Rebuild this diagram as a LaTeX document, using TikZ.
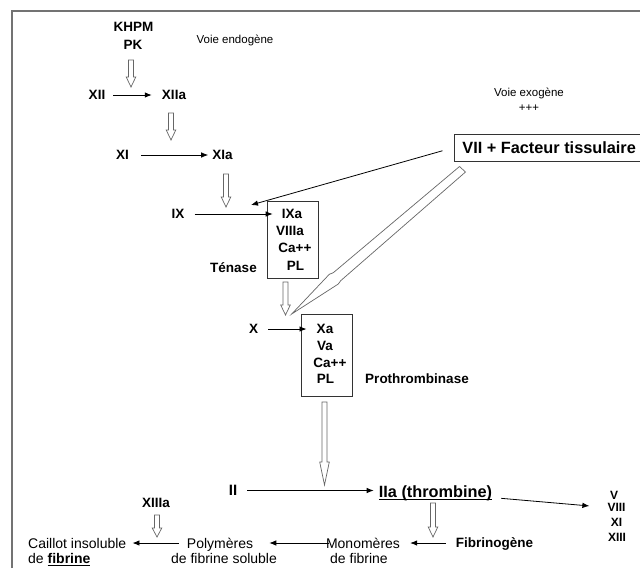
\documentclass[tikz,border=0pt]{standalone}
\usepackage{fontspec}
\setmainfont{Liberation Sans}
\usetikzlibrary{arrows.meta}

% hollow block arrow pointing down: x, top, tip, head length
\newcommand\hollowdown[4]{%
  \draw[hollow] (#1-2.5,#2) -- (#1+2.5,#2) -- (#1+2.5,#3-#4) -- (#1+4.8,#3-#4)
    -- (#1,#3) -- (#1-4.8,#3-#4) -- (#1-2.5,#3-#4) -- cycle;}
% thick underline
\newcommand\thickul[1]{\setbox0\hbox{#1}\rlap{\rule[-2.6pt]{\wd0}{1.1pt}}\box0}

\begin{document}
\begin{tikzpicture}[x=1pt,y=-1pt,
  bl/.style={font=\bfseries\fontsize{13.5}{16}\selectfont, text height=9.7pt, text depth=0pt, inner sep=0pt},
  bs/.style={font=\bfseries\fontsize{12}{14}\selectfont, text height=8.6pt, text depth=0pt, inner sep=0pt},
  rg/.style={font=\fontsize{14}{17}\selectfont, text height=10pt, text depth=0pt, inner sep=0pt},
  sm/.style={font=\fontsize{11.5}{14}\selectfont, text height=8.2pt, text depth=0pt, inner sep=0pt},
  arr/.style={line width=0.8pt, -{Latex[length=7pt,width=5.5pt]}},
  hollow/.style={draw=black!60, fill=white, line width=0.7pt, line join=miter},
  box/.style={draw=black!80, line width=0.8pt, inner sep=0pt},
]
\useasboundingbox (0,0) rectangle (640,568);

% page frame
\draw[black!55, line width=1.3pt] (12,568) -- (12,11) -- (640,11);

% intrinsic pathway
\node[bl] (khpm) at (133.5,27) {KHPM};
\node[bl] (pk) at (133,45) {PK};
\node[sm] (endo) at (235,39) {Voie endogène};
\node[bl] (xii) at (97,95) {XII};
\node[bl] (xiia) at (174,95) {XIIa};
\node[bl] (xi) at (122.5,155) {XI};
\node[bl] (xia) at (222.5,155) {XIa};
\draw[arr, shorten <=8pt, shorten >=10pt] (xii) -- (xiia);
\draw[arr, shorten <=12pt, shorten >=4pt] (xi) -- (xia);
\hollowdown{131}{60}{87}{10}
\hollowdown{171}{113}{140}{10}
\hollowdown{226}{174}{207}{10}

% extrinsic pathway
\node[sm] (exo) at (529,92) {Voie exogène};
\node[sm] (plus) at (529,107) {+++};
\node[box, anchor=west, font=\bfseries\fontsize{16.3}{19}\selectfont,
      text height=11.7pt, text depth=0pt, inner xsep=8pt, inner ysep=7.6pt]
      (vii) at (454,147.5) {VII + Facteur tissulaire};

% tenase complex
\node[bl] (ix) at (178,214) {IX};
\node[box, minimum width=51pt, minimum height=77pt] (tenbox) at (292.5,239.5) {};
\node[bl] (ixa) at (292,214) {IXa};
\node[bl] (viiia) at (290,231) {VIIIa};
\node[bl] (ca1) at (295,248) {Ca++};
\node[bl] (pl1) at (295.5,266) {PL};
\node[bl] (tenase) at (233.5,268) {Ténase};
\draw[arr, shorten <=10pt, shorten >=9pt] (ix) -- (ixa);
\coordinate (ixtip) at (251,205);
\draw[arr, shorten <=12pt] (vii.west) -- (ixtip);
\hollowdown{285.5}{282}{315}{10}

% lightning arrow from the tissue factor
\draw[hollow] (459.5,166.5) -- (465.5,172) -- (340.7,280.7) -- (338.3,284)
  -- (291.7,314) -- (329.3,274.3) -- (333.3,272.7) -- cycle;

% prothrombinase complex
\node[bl] (x) at (253.5,329) {X};
\node[box, minimum width=51pt, minimum height=82pt] (probox) at (326.5,355) {};
\node[bl] (xa) at (325,329) {Xa};
\node[bl] (va) at (325,346) {Va};
\node[bl] (ca2) at (330,362.5) {Ca++};
\node[bl] (pl2) at (325.5,379) {PL};
\node[bl] (proth) at (417,379) {Prothrombinase};
\draw[arr, shorten <=10pt, shorten >=10pt] (x) -- (xa);
\hollowdown{324.5}{402}{485}{23}

% thrombin
\node[font=\bfseries\fontsize{15}{18}\selectfont, text height=10.7pt, text depth=0pt, inner sep=0pt]
      (ii) at (233,490.5) {II};
\node[font=\bfseries\fontsize{16.3}{19}\selectfont, text height=11.7pt, text depth=0pt, inner sep=0pt]
      (iia) at (435.5,491.5) {\thickul{IIa (thrombine)}};
\draw[arr, shorten <=10pt, shorten >=5pt] (ii) -- (ii -| iia.west);
\node[bs] (v) at (614,495) {V};
\node[bs] (viii) at (616.5,507.5) {VIII};
\node[bs] (xif) at (616.5,522.5) {XI};
\node[bs] (xiii) at (617,537) {XIII};
\draw[arr, shorten <=9pt, shorten >=18pt] (iia.south east) -- (viii.west);

% fibrin formation
\node[bl] (fib) at (494.5,543) {Fibrinogène};
\node[rg] (mono) at (363,543) {Monomères};
\node[rg] (mono2) at (359,558.5) {de fibrine};
\node[rg] (poly) at (220,543) {Polymères};
\node[rg] (poly2) at (224,558.5) {de fibrine soluble};
\node[rg, anchor=west] (caillot) at (28,543) {Caillot insoluble};
\node[rg, anchor=west] (caillot2) at (28,558.5) {de \textbf{\thickul{fibrine}}};
\node[bl] (xiiia) at (156,503) {XIIIa};
\draw[arr, shorten <=10pt, shorten >=10pt] (fib) -- (fib -| mono.east);
\draw[arr, shorten <=-3pt, shorten >=16pt] (mono.west) -- (mono.west -| poly.east);
\draw[arr, shorten <=8pt, shorten >=6pt] (poly) -- (caillot);
\hollowdown{433}{503}{537}{10}
\hollowdown{157}{515}{537}{9}
\end{tikzpicture}
\end{document}
